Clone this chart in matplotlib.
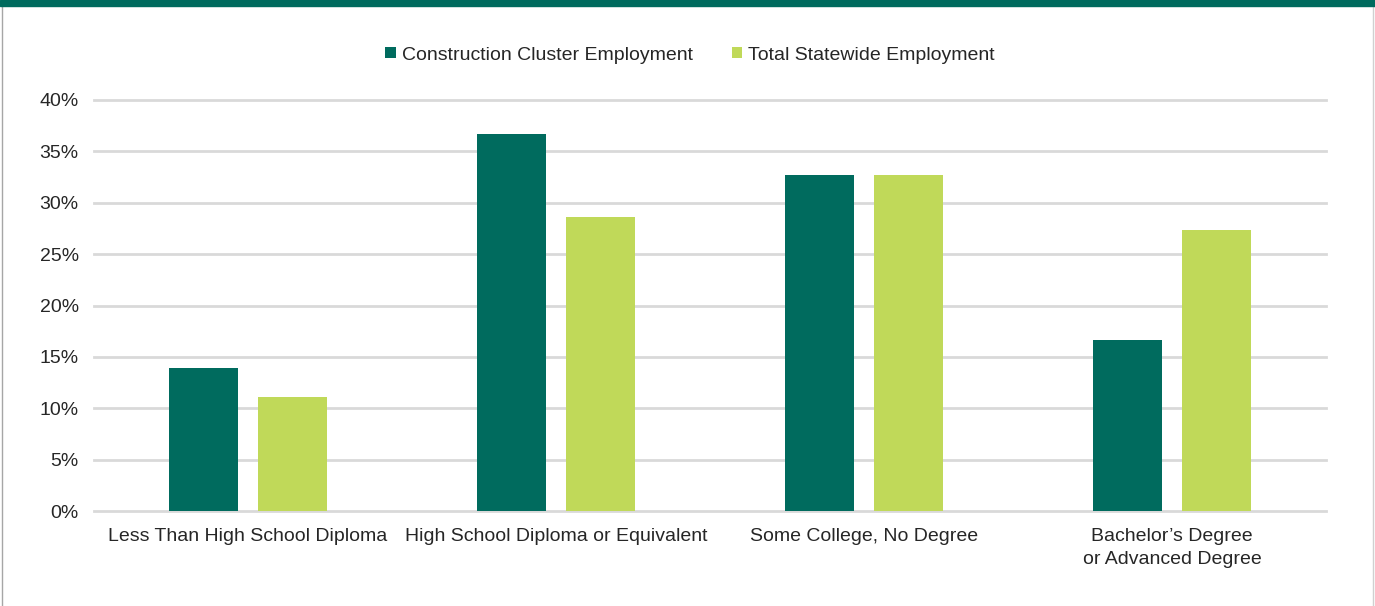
import matplotlib.pyplot as plt
import numpy as np
from matplotlib.patches import Rectangle
from matplotlib.lines import Line2D

plt.rcParams['font.family'] = ['Liberation Sans', 'DejaVu Sans']

categories = ['Less Than High School Diploma', 'High School Diploma or Equivalent',
              'Some College, No Degree', 'Bachelor\u2019s Degree\nor Advanced Degree']
construction = [13.9, 36.7, 32.7, 16.6]
statewide = [11.1, 28.6, 32.7, 27.3]
series_names = ['Construction Cluster Employment', 'Total Statewide Employment']

dark = '#006b5e'
light = '#c0d959'
txt = '#262626'

fig = plt.figure(figsize=(13.75, 6.06), dpi=100)
ax = fig.add_axes([94/1375, 1 - 511/606, 1232/1375, 411/606])

x = np.arange(len(categories))
w = 0.224
ax.bar(x - 0.143, construction, w, color=dark, label=series_names[0], zorder=3)
ax.bar(x + 0.143, statewide, w, color=light, label=series_names[1], zorder=3)

ax.set_xlim(-0.5, len(categories) - 0.5)
ax.set_ylim(0, 40)
ax.set_yticks(range(0, 41, 5))
ax.set_yticklabels([f'{v}%' for v in range(0, 41, 5)])
ax.set_xticks(x)
ax.set_xticklabels(categories, linespacing=1.5)
ax.yaxis.grid(True, color='#d9d9d9', linewidth=2, zorder=0)
for gl in ax.get_ygridlines():
    gl.set_clip_on(False)
for s in ax.spines.values():
    s.set_visible(False)
ax.tick_params(axis='both', length=0, labelsize=14, colors=txt, labelcolor=txt)
ax.tick_params(axis='y', pad=11)
ax.tick_params(axis='x', pad=12)

fig.legend(loc='center', bbox_to_anchor=(690/1375, 1 - 55/606), ncol=2, frameon=False,
           fontsize=14, handlelength=0.55, handleheight=0.55, handletextpad=0.3,
           columnspacing=2.0, labelcolor=txt)

# frame: green band on top, thin grey sides
fig.patches.append(Rectangle((0, 1 - 6/606), 1, 6/606, transform=fig.transFigure,
                             color=dark, zorder=5))
fig.lines.append(Line2D([1.5/1375, 1.5/1375], [0, 1], transform=fig.transFigure,
                        color='#a6a6a6', linewidth=1))
fig.lines.append(Line2D([1373/1375, 1373/1375], [0, 1], transform=fig.transFigure,
                        color='#d0d0d0', linewidth=1))

fig.savefig('out.png', dpi=100, facecolor='white')
